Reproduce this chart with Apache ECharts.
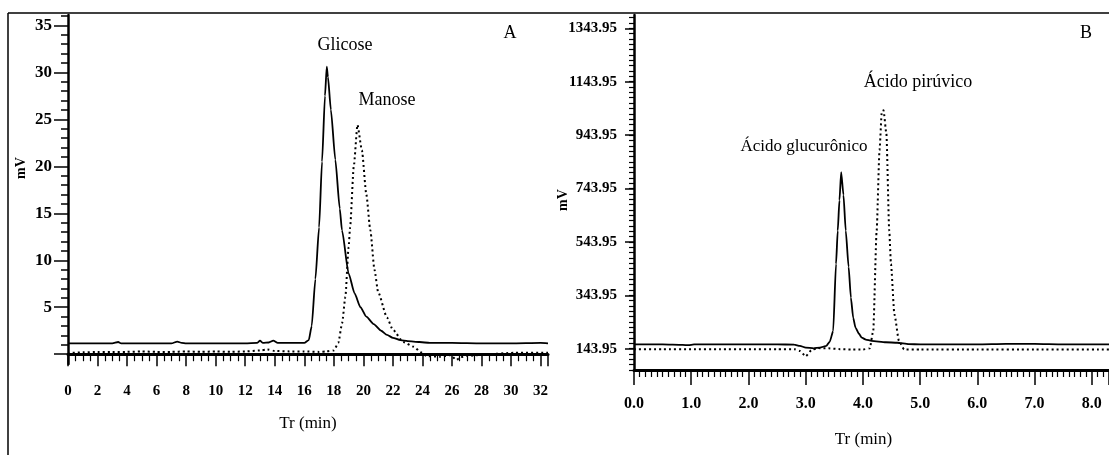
<!DOCTYPE html>
<html>
<head>
<meta charset="utf-8">
<script src="https://cdn.jsdelivr.net/npm/echarts@6/dist/echarts.min.js"></script>
<style>
html,body{margin:0;padding:0;background:#fff;}
#chart{width:1109px;height:455px;}
</style>
</head>
<body>
<div id="chart"></div>
<script>
// ---- Panel A data (Tr in min, signal in mV) ----
const glicoseT = [0,1,2,3,3.4,3.6,4,5,6,7,7.4,7.7,8,9,10,11,12,12.8,13.0,13.2,13.6,13.9,14.2,15,15.6,16.0,16.3,16.5,16.75,17.0,17.2,17.4,17.52,17.6,17.8,18.1,18.4,18.55,19.0,19.4,19.8,20.2,20.7,21.2,21.6,22.0,22.5,23.0,23.8,24.5,26,28,30,32,32.5];
const glicoseV = [1.15,1.15,1.15,1.15,1.3,1.15,1.15,1.15,1.15,1.15,1.35,1.2,1.15,1.15,1.15,1.15,1.15,1.2,1.45,1.2,1.25,1.45,1.2,1.2,1.2,1.2,1.5,3,8,13.5,20.5,27.5,30.6,29.5,26,20.7,15.5,13.2,8.6,6.5,5.0,4.0,3.2,2.5,2.05,1.75,1.5,1.4,1.3,1.2,1.2,1.15,1.15,1.2,1.15];
const manoseT = [0,0.3,1,2,3,4,5,6,7,8,9,10,11,12,13,13.5,14,15,16,17,17.5,18.0,18.3,18.56,18.78,19.0,19.1,19.35,19.6,19.9,20.2,20.47,20.75,21.0,21.6,22.0,22.7,23.4,23.9,24.3,25.2,25.9,26.3,26.6,27.0,28.35,30.2,32.5];
const manoseV = [0.0,0.15,0.2,0.25,0.25,0.25,0.3,0.25,0.25,0.3,0.25,0.3,0.25,0.3,0.4,0.5,0.35,0.3,0.3,0.25,0.3,0.4,1.2,3.3,6.1,11.4,13.5,20,24.4,21.7,17,13.2,9.0,6.6,3.9,2.6,1.3,0.8,0.2,-0.2,-0.27,-0.1,-0.6,-0.3,-0.2,0.0,0.15,0.15];
const xLabelsA = [0,2,4,6,8,10,12,14,16,18,20,22,24,26,28,30,32];
const yLabelsA = [5,10,15,20,25,30,35];

// ---- Panel B data ----
const glucuronicoT = [0,0.5,0.85,0.95,1.05,1.5,2,2.5,2.8,2.9,3.0,3.14,3.25,3.36,3.42,3.48,3.53,3.56,3.59,3.62,3.66,3.70,3.75,3.79,3.83,3.87,3.93,3.98,4.05,4.15,4.4,4.6,4.8,5.0,6,6.5,7,7.5,8.3];
const glucuronicoV = [160,160,158,157,160,160,160,160,159,154,148,145,148,154,170,210,461,586,700,805,720,586,450,335,260,223,200,185,178,173,168,166,161,160,160,162,162,160,160];
const piruvicoT = [0,0.5,1,1.5,2,2.5,2.8,2.9,3.0,3.1,3.2,3.4,3.6,3.8,4.0,4.12,4.18,4.24,4.29,4.33,4.36,4.41,4.46,4.49,4.55,4.63,4.72,5.0,6,7,8.3];
const piruvicoV = [142,142,142,142,142,142,142,135,115,138,146,145,142,141,141,145,210,586,887,1031,1037,950,586,461,273,173,141,141,141,141,141];
const xLabelsB = [0,1,2,3,4,5,6,7,8];
const yLabelsB = [143.95,343.95,543.95,743.95,943.95,1143.95,1343.95];

function zip(t, v){ return t.map((x,i)=>[x, v[i]]); }

const serif = "'Liberation Serif','Times New Roman',serif";

const yMinorA = []; for (let v = 0; v <= 36; v += 1) yMinorA.push(v);
const yMajorA = [0].concat(yLabelsA);
const yMinorB = []; for (let k = 0; k <= 66; k++) yMinorB.push(+(63.95 + 20*k).toFixed(2));

const chart = echarts.init(document.getElementById('chart'), null, {renderer:'canvas'});

chart.setOption({
  backgroundColor:'#fff',
  animation:false,
  grid:[
    {left:68, top:15, right:561, bottom:91},
    {left:634, top:15, right:-17, bottom:85}
  ],
  xAxis:[
    {type:'value', gridIndex:0, min:0, max:32.5, interval:2,
     axisLine:{lineStyle:{color:'#000', width:3}},
     axisTick:{length:12, lineStyle:{color:'#000', width:1.5}},
     minorTick:{show:true, splitNumber:4, length:7, lineStyle:{color:'#000', width:1.2}},
     splitLine:{show:false},
     axisLabel:{customValues:xLabelsA, margin:20, color:'#000', fontFamily:serif, fontWeight:'bold', fontSize:15},
     name:'Tr (min)', nameLocation:'middle', nameGap:51,
     nameTextStyle:{fontFamily:serif, fontSize:17, color:'#000'}
    },
    {type:'value', gridIndex:1, min:0, max:8.3, interval:1,
     axisLine:{lineStyle:{color:'#000', width:3}},
     axisTick:{length:15, lineStyle:{color:'#000', width:1.5}},
     minorTick:{show:true, splitNumber:10, length:7, lineStyle:{color:'#000', width:1.2}},
     splitLine:{show:false},
     axisLabel:{customValues:xLabelsB, margin:26, color:'#000', fontFamily:serif, fontWeight:'bold', fontSize:16,
       formatter:(v)=>v.toFixed(1)},
     name:'Tr (min)', nameLocation:'middle', nameGap:61,
     nameTextStyle:{fontFamily:serif, fontSize:17, color:'#000', padding:[0,16,0,0]}
    }
  ],
  yAxis:[
    {type:'value', gridIndex:0, position:'left', min:-1.04, max:36.1,
     axisLine:{show:true, lineStyle:{color:'#000', width:2.5}},
     axisTick:{show:true, customValues:yMajorA, length:14, lineStyle:{color:'#000', width:1.5}},
     axisLabel:{customValues:yLabelsA, margin:16, color:'#000', fontFamily:serif, fontWeight:'bold', fontSize:17},
     splitLine:{show:false}
    },
    {type:'value', gridIndex:0, position:'left', min:-1.04, max:36.1,
     axisLine:{show:false},
     axisTick:{show:true, customValues:yMinorA, length:7, lineStyle:{color:'#000', width:1.5}},
     axisLabel:{show:false},
     splitLine:{show:false}
    },
    {type:'value', gridIndex:1, position:'left', min:63.95, max:1393.95,
     axisLine:{show:true, lineStyle:{color:'#000', width:2.5}},
     axisTick:{show:true, customValues:yLabelsB, length:9, lineStyle:{color:'#000', width:1.5}},
     axisLabel:{customValues:yLabelsB, margin:17, color:'#000', fontFamily:serif, fontWeight:'bold', fontSize:15,
       formatter:(v)=>v.toFixed(2)},
     splitLine:{show:false}
    },
    {type:'value', gridIndex:1, position:'left', min:63.95, max:1393.95,
     axisLine:{show:false},
     axisTick:{show:true, customValues:yMinorB, length:5, lineStyle:{color:'#000', width:1.2}},
     axisLabel:{show:false},
     splitLine:{show:false}
    }
  ],
  series:[
    {name:'Glicose', type:'line', xAxisIndex:0, yAxisIndex:0, data:zip(glicoseT, glicoseV),
     showSymbol:false, smooth:0.2, smoothMonotone:'x', lineStyle:{color:'#000', width:1.8}},
    {name:'Manose', type:'line', xAxisIndex:0, yAxisIndex:0, data:zip(manoseT, manoseV),
     showSymbol:false, smooth:0.2, smoothMonotone:'x', lineStyle:{color:'#000', width:2, type:[2,3]}},
    {name:'Ácido glucurônico', type:'line', xAxisIndex:1, yAxisIndex:2, data:zip(glucuronicoT, glucuronicoV),
     showSymbol:false, smooth:0.2, smoothMonotone:'x', lineStyle:{color:'#000', width:1.8}},
    {name:'Ácido pirúvico', type:'line', xAxisIndex:1, yAxisIndex:2, data:zip(piruvicoT, piruvicoV),
     showSymbol:false, smooth:0.2, smoothMonotone:'x', lineStyle:{color:'#000', width:2, type:[2,3]}}
  ],
  graphic:[
    {type:'line', shape:{x1:8, y1:13, x2:1109, y2:13}, style:{stroke:'#000', lineWidth:1.5}, silent:true},
    {type:'line', shape:{x1:8, y1:13, x2:8, y2:455}, style:{stroke:'#000', lineWidth:1.5}, silent:true},
    {type:'text', x:21, y:168, rotation:Math.PI/2, style:{text:'mV', font:"bold 14px 'Liberation Serif', serif", fill:'#000', textAlign:'center', textVerticalAlign:'middle'}},
    {type:'text', x:563, y:200, rotation:Math.PI/2, style:{text:'mV', font:"bold 14px 'Liberation Serif', serif", fill:'#000', textAlign:'center', textVerticalAlign:'middle'}},
    {type:'text', x:345, y:45, style:{text:'Glicose', font:"18px 'Liberation Serif', serif", fill:'#000', textAlign:'center', textVerticalAlign:'middle'}},
    {type:'text', x:387, y:100, style:{text:'Manose', font:"18px 'Liberation Serif', serif", fill:'#000', textAlign:'center', textVerticalAlign:'middle'}},
    {type:'text', x:510, y:33, style:{text:'A', font:"18px 'Liberation Serif', serif", fill:'#000', textAlign:'center', textVerticalAlign:'middle'}},
    {type:'text', x:804, y:147, style:{text:'Ácido glucurônico', font:"17px 'Liberation Serif', serif", fill:'#000', textAlign:'center', textVerticalAlign:'middle'}},
    {type:'text', x:918, y:82, style:{text:'Ácido pirúvico', font:"18px 'Liberation Serif', serif", fill:'#000', textAlign:'center', textVerticalAlign:'middle'}},
    {type:'text', x:1086, y:33, style:{text:'B', font:"18px 'Liberation Serif', serif", fill:'#000', textAlign:'center', textVerticalAlign:'middle'}}
  ]
});
</script>
</body>
</html>
